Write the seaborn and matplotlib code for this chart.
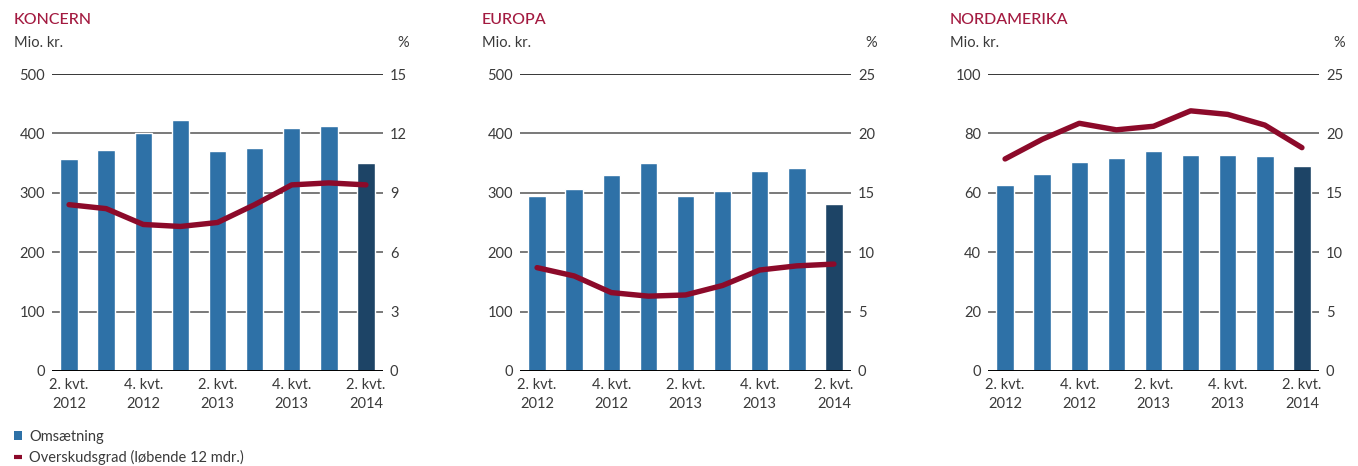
import numpy as np
import pandas as pd
import matplotlib
matplotlib.use("Agg")
import matplotlib.pyplot as plt
import seaborn as sns
from matplotlib.patches import Patch
from matplotlib.lines import Line2D

# data
quarters = ["2. kvt. 2012", "3. kvt. 2012", "4. kvt. 2012", "1. kvt. 2013", "2. kvt. 2013",
            "3. kvt. 2013", "4. kvt. 2013", "1. kvt. 2014", "2. kvt. 2014"]
tick_labels = ["2. kvt.\n2012", "4. kvt.\n2012", "2. kvt.\n2013", "4. kvt.\n2013", "2. kvt.\n2014"]

koncern_oms = [357, 372, 400, 423, 370, 375, 409, 412, 350]
koncern_grad = [8.4, 8.2, 7.4, 7.3, 7.5, 8.4, 9.4, 9.5, 9.4]

europa_oms = [295, 307, 330, 351, 295, 303, 337, 341, 281]
europa_grad = [8.7, 8.0, 6.6, 6.3, 6.4, 7.2, 8.5, 8.85, 9.0]

nord_oms = [62.7, 66.4, 70.4, 71.8, 74.2, 72.8, 72.8, 72.5, 69.1]
nord_grad = [17.85, 19.5, 20.85, 20.3, 20.6, 21.9, 21.6, 20.7, 18.8]

panels = [
    ("KONCERN", koncern_oms, koncern_grad, 500, 15),
    ("EUROPA", europa_oms, europa_grad, 500, 25),
    ("NORDAMERIKA", nord_oms, nord_grad, 100, 25),
]

BAR = "#2e71a7"
BAR_LAST = "#1d4466"
LINE = "#8c0a2a"
TITLE = "#a31a40"
TXT = "#3a3a3a"

sns.set_style("white")
plt.rcParams["font.family"] = ["Lato", "DejaVu Sans"]

W, H = 1358, 466
fig = plt.figure(figsize=(W / 100, H / 100), dpi=100)

lefts = [52, 520, 988]
ax_w = 331
top_px, bot_px = 74, 371

for (name, oms, grad, lmax, rmax), lx in zip(panels, lefts):
    ax = fig.add_axes([lx / W, (H - bot_px) / H, ax_w / W, (bot_px - top_px) / H])
    df = pd.DataFrame({
        "pos": np.arange(len(quarters)),
        "oms": oms,
        "grad": grad,
        "kind": ["normal"] * (len(quarters) - 1) + ["last"],
    })
    sns.barplot(data=df, x="pos", y="oms", hue="kind", native_scale=True, dodge=False,
                palette={"normal": BAR, "last": BAR_LAST}, width=0.47, legend=False,
                saturation=1, ax=ax, zorder=2)
    ax.set_xlim(-0.46, 8.46)
    ax.set_ylim(0, lmax)
    yt = np.linspace(0, lmax, 6)
    ax.set_yticks(yt)
    ax.set_yticklabels([f"{v:g}" for v in yt])
    for v in yt[1:-1]:
        ax.axhline(v, color="#6e6e6e", lw=1.3, zorder=1)
    ax.axhline(0, color="black", lw=1.4, zorder=3)
    ax.axhline(lmax, color="black", lw=1.1, zorder=3)
    ax.set_xticks([0, 2, 4, 6, 8])
    ax.set_xticklabels(tick_labels, linespacing=1.45)
    ax.set_xlabel("")
    ax.set_ylabel("")
    ax.tick_params(axis="both", length=0, labelsize=10.5, colors=TXT)
    ax.tick_params(axis="y", pad=5)
    ax.tick_params(axis="x", pad=5)
    for s in ax.spines.values():
        s.set_visible(False)

    ax2 = ax.twinx()
    sns.lineplot(data=df, x="pos", y="grad", color=LINE, lw=3.9, ax=ax2, zorder=4)
    ax2.set_ylim(0, rmax)
    rt = np.linspace(0, rmax, 6)
    ax2.set_yticks(rt)
    ax2.set_yticklabels([f"{v:g}" for v in rt])
    ax2.set_ylabel("")
    ax2.tick_params(axis="y", length=0, labelsize=10.5, colors=TXT, pad=5)
    for s in ax2.spines.values():
        s.set_visible(False)

    fig.text((lx - 38) / W, 1 - 20 / H, name, color=TITLE, fontsize=11.5,
             fontweight="medium", va="center", ha="left")
    fig.text((lx - 38) / W, 1 - 43 / H, "Mio. kr.", color=TXT, fontsize=10.5,
             va="center", ha="left")
    fig.text((lx + ax_w + 26) / W, 1 - 43 / H, "%", color=TXT, fontsize=10.5,
             va="center", ha="right")

handles = [Patch(facecolor=BAR, edgecolor="none"),
           Line2D([0], [0], color=LINE, lw=3, solid_capstyle="butt")]
fig.legend(handles, ["Omsætning", "Overskudsgrad (løbende 12 mdr.)"],
           loc="upper left", bbox_to_anchor=(14 / W, 1 - 430 / H), frameon=False,
           handlelength=0.55, handleheight=0.6, handletextpad=0.5, labelspacing=0.4,
           fontsize=10.5, labelcolor=TXT, borderpad=0, borderaxespad=0)

fig.savefig("out.png", dpi=100)
